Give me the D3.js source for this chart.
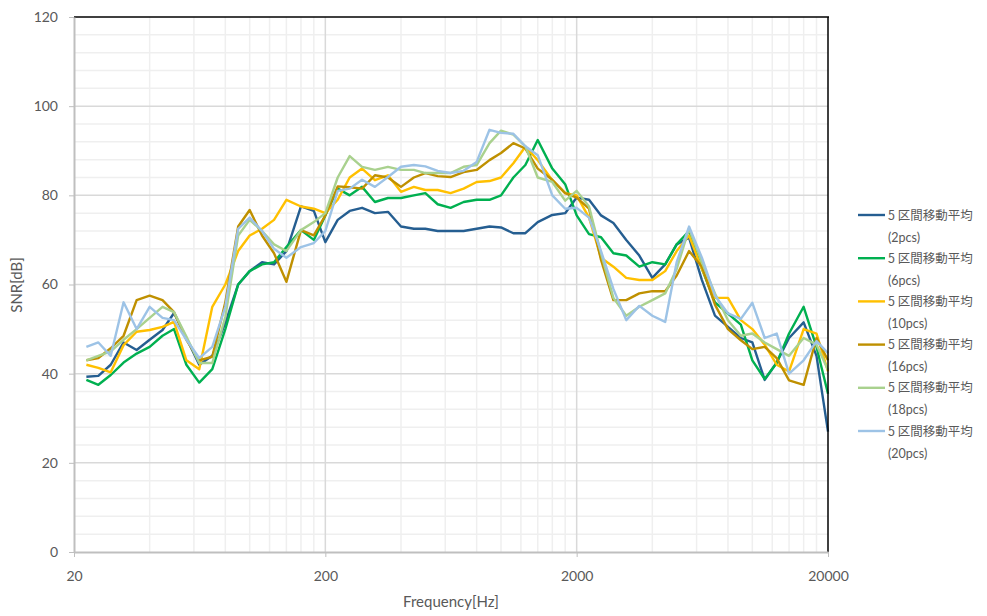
<!DOCTYPE html>
<html>
<head>
<meta charset="utf-8">
<script src="https://cdn.jsdelivr.net/npm/d3@7"></script>
<style>
  html, body { margin: 0; padding: 0; background: #fff; }
  svg { display: block; font-family: Lato, "Noto Sans CJK JP", sans-serif; }
</style>
</head>
<body>
<svg id="chart" width="987" height="616"></svg>
<script>
// frequency grid [Hz], shared by all series
const freqs = [22.4, 25, 28, 31.5, 35.5, 40, 45, 50, 56, 63, 71, 80, 90,
  100, 112, 125, 140, 160, 180, 200, 224, 250, 280, 315, 355, 400, 450, 500, 560, 630, 710, 800, 900,
  1000, 1120, 1250, 1400, 1600, 1800, 2000, 2240, 2500, 2800, 3150, 3550, 4000, 4500, 5000, 5600, 6300, 7100, 8000, 9000,
  10000, 11200, 12500, 14000, 16000, 18000, 20000];

// SNR [dB] per series
const snr2 = [39.3, 39.5, 42, 47, 45.3, 47.6, 49.8, 53.6, 48, 42, 44, 51.4, 60,
  63, 65, 64.5, 67.5, 77.5, 76.5, 69.5, 74.5, 76.5, 77.2, 76, 76.3, 73, 72.5, 72.5, 72, 72, 72, 72.5, 73,
  72.8, 71.5, 71.5, 74, 75.6, 76, 79.5, 79, 75.5, 73.8, 70, 66.5, 61.5, 64.5, 69, 70.5, 61, 53, 50.5, 48,
  47, 38.6, 42.5, 48, 51.5, 44, 27];
const snr6 = [38.6, 37.5, 39.7, 42.5, 44.5, 46, 48.5, 50, 42, 38, 41, 50, 60,
  63, 64.5, 65, 68.4, 72.2, 70, 75.5, 81.5, 80, 81.9, 78.5, 79.4, 79.4, 80, 80.5, 78, 77.2, 78.5, 79, 79,
  80, 84, 86.8, 92.4, 86, 82.5, 75.5, 71.3, 70.6, 67, 66.5, 64, 65, 64.5, 69, 72, 63.5, 56, 53.5, 51,
  43, 38.8, 42.4, 49, 55, 46, 35.5];
const snr10 = [42, 41.3, 40.3, 46.4, 49.4, 49.8, 50.5, 51.6, 43, 41, 55, 60, 67.5,
  71, 72.5, 74.5, 79, 77.5, 77, 76, 79, 84, 86, 83.4, 84.5, 80.8, 81.9, 81.2, 81.2, 80.5, 81.5, 83, 83.2,
  84, 87.2, 90.9, 87.9, 83.4, 80.5, 80, 75, 66, 64, 61.5, 61, 61, 63, 67.5, 71, 63.5, 57, 57, 52,
  50, 46.5, 42, 40.5, 50, 49, 40.5];
const snr16 = [43, 43.5, 45.7, 48.5, 56.5, 57.5, 56.5, 53.8, 47.6, 43, 43.8, 56, 73,
  76.7, 71, 67, 60.6, 72.2, 71, 75.5, 82, 81.8, 81.5, 84.5, 84, 81.9, 84, 85, 84.3, 84.1, 85.2, 85.7, 87.9,
  89.5, 91.7, 90.5, 86, 83.5, 80.5, 79.5, 77, 65.5, 56.5, 56.5, 58, 58.5, 58.5, 62, 67.5, 64, 55.5, 50, 47.5,
  45.5, 46, 43.5, 38.5, 37.5, 48, 43];
const snr18 = [43, 44, 45, 47.6, 50, 52.5, 55, 53.8, 48.3, 42.4, 42.4, 52.7, 71,
  74.5, 72, 69, 67.5, 72.2, 74, 76, 84, 88.8, 86.4, 85.7, 86.4, 85.7, 85.7, 85, 85, 85, 86.4, 86.8, 91.7,
  94.5, 93.6, 91, 84, 83, 78.8, 81, 77.5, 67, 57, 53, 55, 56.5, 58, 63.5, 72.5, 65, 58, 52, 48.5,
  49, 47, 45.5, 44, 48, 46.5, 40.8];
const snr20 = [46, 47, 44, 56, 50, 55, 52.5, 52, 47.6, 43.5, 46, 55, 72.5,
  75, 72, 68, 66, 68.4, 69.3, 72, 81, 81.5, 83.5, 81.9, 84.1, 86.4, 86.8, 86.5, 85.5, 85, 85.5, 87.5, 94.7,
  94, 93.8, 91, 89, 80, 77, 77.2, 75, 67.5, 59, 52, 55.2, 53, 51.6, 65, 73, 66, 57.5, 53.5, 52.3,
  55.9, 48, 49, 40, 43, 47.3, 44.6];

const seriesNames = ["5 区間移動平均 (2pcs)", "5 区間移動平均 (6pcs)", "5 区間移動平均 (10pcs)",
  "5 区間移動平均 (16pcs)", "5 区間移動平均 (18pcs)", "5 区間移動平均 (20pcs)"];
const seriesValues = [snr2, snr6, snr10, snr16, snr18, snr20];
const seriesColors = ["#255E91", "#00B050", "#FFC000", "#BF9000", "#A9D18E", "#9DC3E6"];

const xTicks = [20, 200, 2000, 20000];
const yTicks = [0, 20, 40, 60, 80, 100, 120];

const svg = d3.select("#chart");
const L = 74, R = 828, T = 17, B = 552;
const x = d3.scaleLog().domain([20, 20000]).range([L, R]);
const y = d3.scaleLinear().domain([0, 120]).range([B, T]);

// ---------- grid ----------
const minorX = [];
xTicks.slice(0, -1).forEach(d => { for (let k = 2; k <= 9; k++) minorX.push(d * k); });
const minorY = d3.range(0, 121, 4).filter(v => v % 20 !== 0);
const grid = svg.append("g");
grid.selectAll("line.mx").data(minorX).join("line")
  .attr("x1", d => x(d)).attr("x2", d => x(d)).attr("y1", T).attr("y2", B)
  .attr("stroke", "#efefef").attr("stroke-width", 1.5);
grid.selectAll("line.my").data(minorY).join("line")
  .attr("x1", L).attr("x2", R).attr("y1", d => y(d)).attr("y2", d => y(d))
  .attr("stroke", "#efefef").attr("stroke-width", 1.5);
grid.selectAll("line.Mx").data(xTicks.slice(1, -1)).join("line")
  .attr("x1", d => x(d)).attr("x2", d => x(d)).attr("y1", T).attr("y2", B)
  .attr("stroke", "#d9d9d9").attr("stroke-width", 1.5);
grid.selectAll("line.My").data(yTicks.slice(1, -1)).join("line")
  .attr("x1", L).attr("x2", R).attr("y1", d => y(d)).attr("y2", d => y(d))
  .attr("stroke", "#d9d9d9").attr("stroke-width", 1.5);

// ---------- series ----------
const line = d3.line().x((d, i) => x(freqs[i])).y(d => y(d));
const plot = svg.append("g");
seriesValues.forEach((vals, i) => {
  plot.append("path").datum(vals)
    .attr("fill", "none").attr("stroke", seriesColors[i]).attr("stroke-width", 2.4)
    .attr("stroke-linejoin", "round").attr("d", line);
});

// ---------- frame / axes ----------
svg.append("line").attr("x1", L).attr("x2", R + 1).attr("y1", T).attr("y2", T).attr("stroke", "#000").attr("stroke-width", 1.5);
svg.append("line").attr("x1", R).attr("x2", R).attr("y1", T).attr("y2", B).attr("stroke", "#000").attr("stroke-width", 1.5);

const gy = svg.append("g").attr("transform", `translate(${L},0)`)
  .call(d3.axisLeft(y).tickValues(yTicks).tickSize(5).tickPadding(11).tickSizeOuter(0));
const gx = svg.append("g").attr("transform", `translate(0,${B})`)
  .call(d3.axisBottom(x).tickValues(xTicks).tickFormat(d3.format("d")).tickSize(5).tickPadding(14).tickSizeOuter(0));
[gx, gy].forEach(g => {
  g.select(".domain").attr("stroke", "#bfbfbf").attr("stroke-width", 2);
  g.selectAll(".tick line").attr("stroke", "#bfbfbf").attr("stroke-width", 1);
  g.selectAll("text").attr("fill", "#595959").attr("font-size", 14).attr("font-family", "Lato, sans-serif");
});

svg.append("text").attr("x", 451).attr("y", 607).attr("text-anchor", "middle")
  .attr("font-size", 15).attr("fill", "#595959").text("Frequency[Hz]");
svg.append("text").attr("transform", "translate(22,285) rotate(-90)").attr("text-anchor", "middle")
  .attr("font-size", 15).attr("fill", "#595959").text("SNR[dB]");

// ---------- legend ----------
const lg = svg.append("g").attr("font-family", "'Noto Sans CJK JP', sans-serif").attr("font-size", 12.5).attr("fill", "#595959");
seriesNames.forEach((name, i) => {
  const ly = 215 + i * 43.2;
  const parts = name.split(" (");
  lg.append("line").attr("x1", 858).attr("x2", 885).attr("y1", ly).attr("y2", ly)
    .attr("stroke", seriesColors[i]).attr("stroke-width", 2.4);
  lg.append("text").attr("x", 888).attr("y", ly + 4.5).text(parts[0]);
  lg.append("text").attr("x", 888).attr("y", ly + 26.5).attr("font-family", "Lato, sans-serif").text("(" + parts[1]);
});
</script>
</body>
</html>
